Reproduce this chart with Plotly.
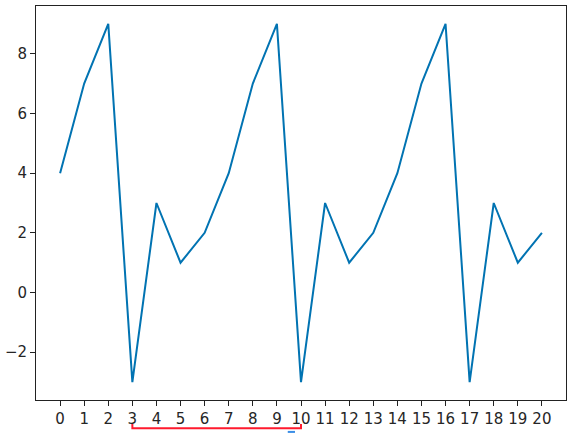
import plotly.graph_objects as go

x_values = list(range(21))
y_values = [4, 7, 9, -3, 3, 1, 2, 4, 7, 9, -3, 3, 1, 2, 4, 7, 9, -3, 3, 1, 2]
x_ticks = list(range(21))
y_ticks = [-2, 0, 2, 4, 6, 8]
bracket_start = 3
bracket_end = 10

X_MIN, X_MAX = -1, 21

def xpaper(v):
    return (v - X_MIN) / (X_MAX - X_MIN)

fig = go.Figure()
fig.add_trace(go.Scatter(x=x_values, y=y_values, mode="lines",
                         line=dict(color="#0173b2", width=2), showlegend=False,
                         hoverinfo="skip"))

axis_common = dict(showgrid=False, zeroline=False, showline=True, mirror=True,
                   linecolor="#222222", linewidth=1, ticks="outside", ticklen=5,
                   tickwidth=1, tickcolor="#222222", automargin=False,
                   tickfont=dict(family="DejaVu Sans", size=15, color="#262626"))

fig.update_xaxes(range=[X_MIN, X_MAX], tickvals=x_ticks, **axis_common)
fig.update_yaxes(range=[-3.6, 9.6], tickvals=y_ticks,
                 ticktext=["\u22122", "0", "2", "4", "6", "8"], **axis_common)

xs, xe = xpaper(bracket_start), xpaper(bracket_end)
fig.add_shape(type="path", xref="paper", yref="paper",
              path=f"M {xs},-0.061 L {xs},-0.072 L {xe},-0.072 L {xe},-0.061",
              line=dict(color="#ff1a2e", width=2))
fig.add_shape(type="line", xref="paper", yref="paper",
              x0=xpaper(9.45), x1=xpaper(9.75), y0=-0.081, y1=-0.081,
              line=dict(color="#3a8ee6", width=2))

fig.update_layout(width=580, height=434, margin=dict(l=36, r=14, t=6, b=34),
                  paper_bgcolor="white", plot_bgcolor="white")

fig.write_html("out.html", config={"displayModeBar": False},
               post_script="document.body.style.margin='0';document.body.style.overflow='hidden';")
